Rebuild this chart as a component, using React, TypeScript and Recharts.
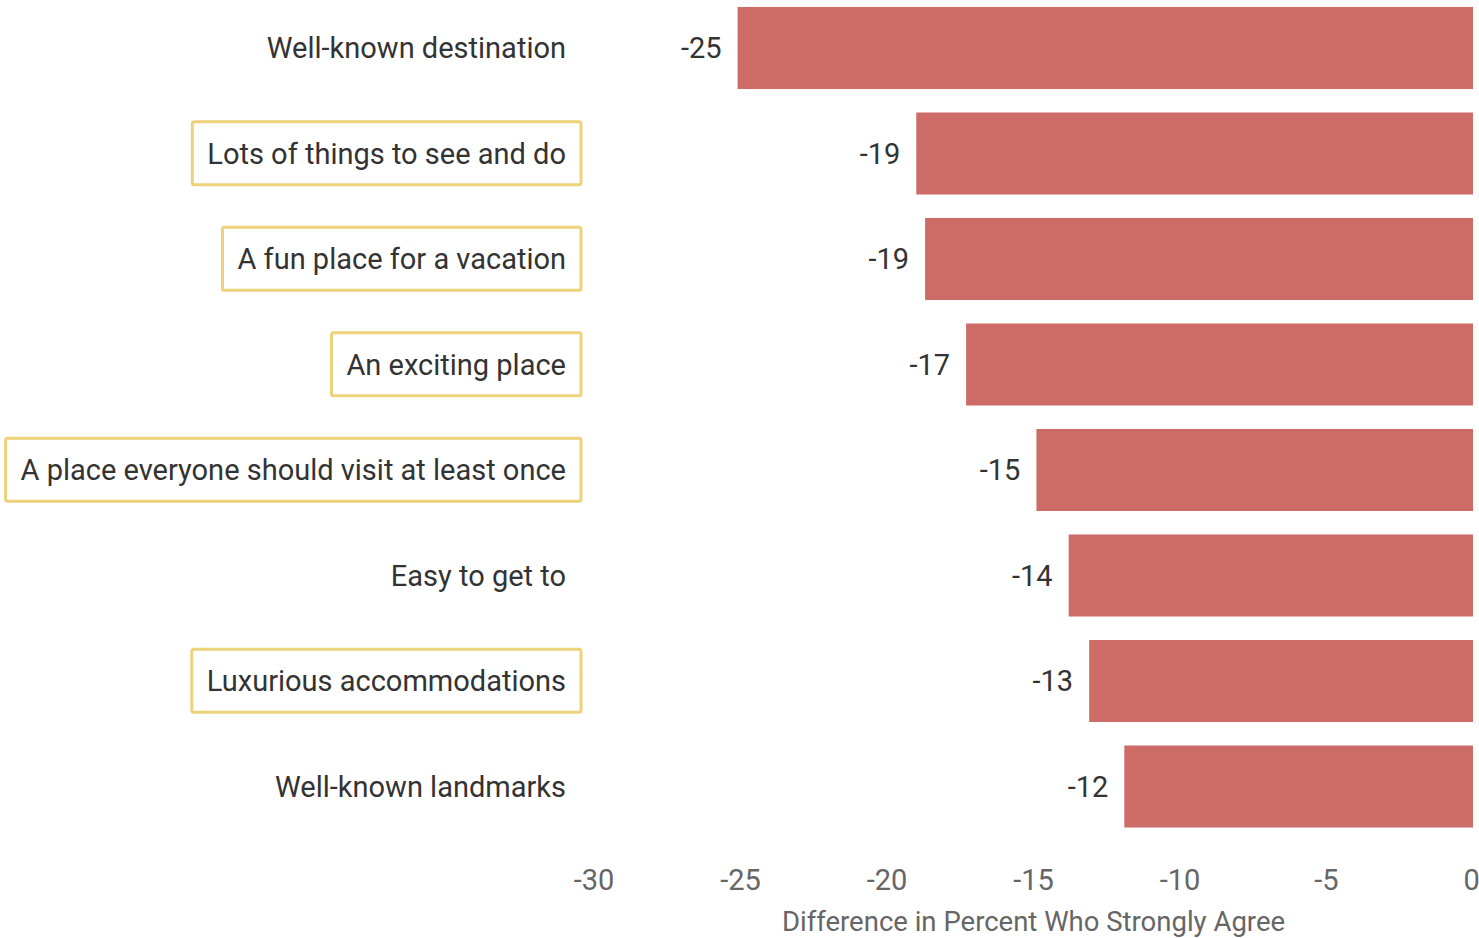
import React from 'react';
import { BarChart, Bar, XAxis, YAxis, LabelList } from 'recharts';

const categories = [
  'Well-known destination',
  'Lots of things to see and do',
  'A fun place for a vacation',
  'An exciting place',
  'A place everyone should visit at least once',
  'Easy to get to',
  'Luxurious accommodations',
  'Well-known landmarks',
];
const values = [-25.1, -19.0, -18.7, -17.3, -14.9, -13.8, -13.1, -11.9];
const highlighted = [false, true, true, true, true, false, true, false];
const xTicks = [-30, -25, -20, -15, -10, -5, 0];
const axisTitle = 'Difference in Percent Who Strongly Agree';

const data = categories.map((c, i) => ({ category: c, value: values[i], highlighted: highlighted[i] }));

const FONT = 'Roboto, "Noto Sans", sans-serif';
const FS = 29;

let ctx: CanvasRenderingContext2D | null = null;
function measure(text: string): number {
  if (!ctx) {
    const c = document.createElement('canvas');
    ctx = c.getContext('2d');
  }
  if (!ctx) return text.length * FS * 0.5;
  ctx.font = `${FS}px ${FONT}`;
  return ctx.measureText(text).width;
}

const CategoryTick = (props: any) => {
  const { y, payload } = props;
  const label = payload.value as string;
  const tx = 594 - 28;
  const isHi = data.find((d) => d.category === label)?.highlighted;
  const w = measure(label);
  const pad = 15;
  return (
    <g>
      {isHi && (
        <rect
          x={tx - w - pad}
          y={y - 31.5}
          width={w + pad * 2}
          height={63}
          fill="none"
          stroke="#EDD27A"
          strokeWidth={3}
          rx={2}
        />
      )}
      <text x={tx} y={y} dy="0.36em" textAnchor="end" fill="#333" fontSize={FS} fontFamily={FONT}>
        {label}
      </text>
    </g>
  );
};

const ValueLabel = (props: any) => {
  const { x, y, width, height, value } = props;
  const left = Math.min(x, x + width);
  return (
    <text
      x={left - 16}
      y={y + height / 2}
      dy="0.36em"
      textAnchor="end"
      fill="#333"
      fontSize={FS}
      fontFamily={FONT}
    >
      {Math.round(value)}
    </text>
  );
};

const AxisTitle = (props: any) => {
  const { viewBox } = props;
  return (
    <text
      x={viewBox.x + viewBox.width / 2}
      y={viewBox.y + 92}
      textAnchor="middle"
      fill="#666"
      fontSize={27.5}
      fontFamily={FONT}
    >
      {axisTitle}
    </text>
  );
};

export default function App() {
  return (
    <div>
      <style>{'body{margin:0;background:#fff}'}</style>
      <BarChart
        layout="vertical"
        width={1479}
        height={938}
        data={data}
        margin={{ top: -5, right: 6, bottom: 0, left: 0 }}
      >
        <XAxis
          type="number"
          domain={[-30, 0]}
          ticks={xTicks}
          axisLine={false}
          tickLine={false}
          tickSize={0}
          tickMargin={30}
          height={99}
          tick={{ fill: '#666', fontSize: FS, fontFamily: FONT }}
          label={<AxisTitle />}
        />
        <YAxis
          type="category"
          dataKey="category"
          width={594}
          axisLine={false}
          tickLine={false}
          interval={0}
          tick={<CategoryTick />}
        />
        <Bar dataKey="value" fill="#CD6B67" barSize={82} isAnimationActive={false}>
          <LabelList dataKey="value" content={<ValueLabel />} />
        </Bar>
      </BarChart>
    </div>
  );
}
